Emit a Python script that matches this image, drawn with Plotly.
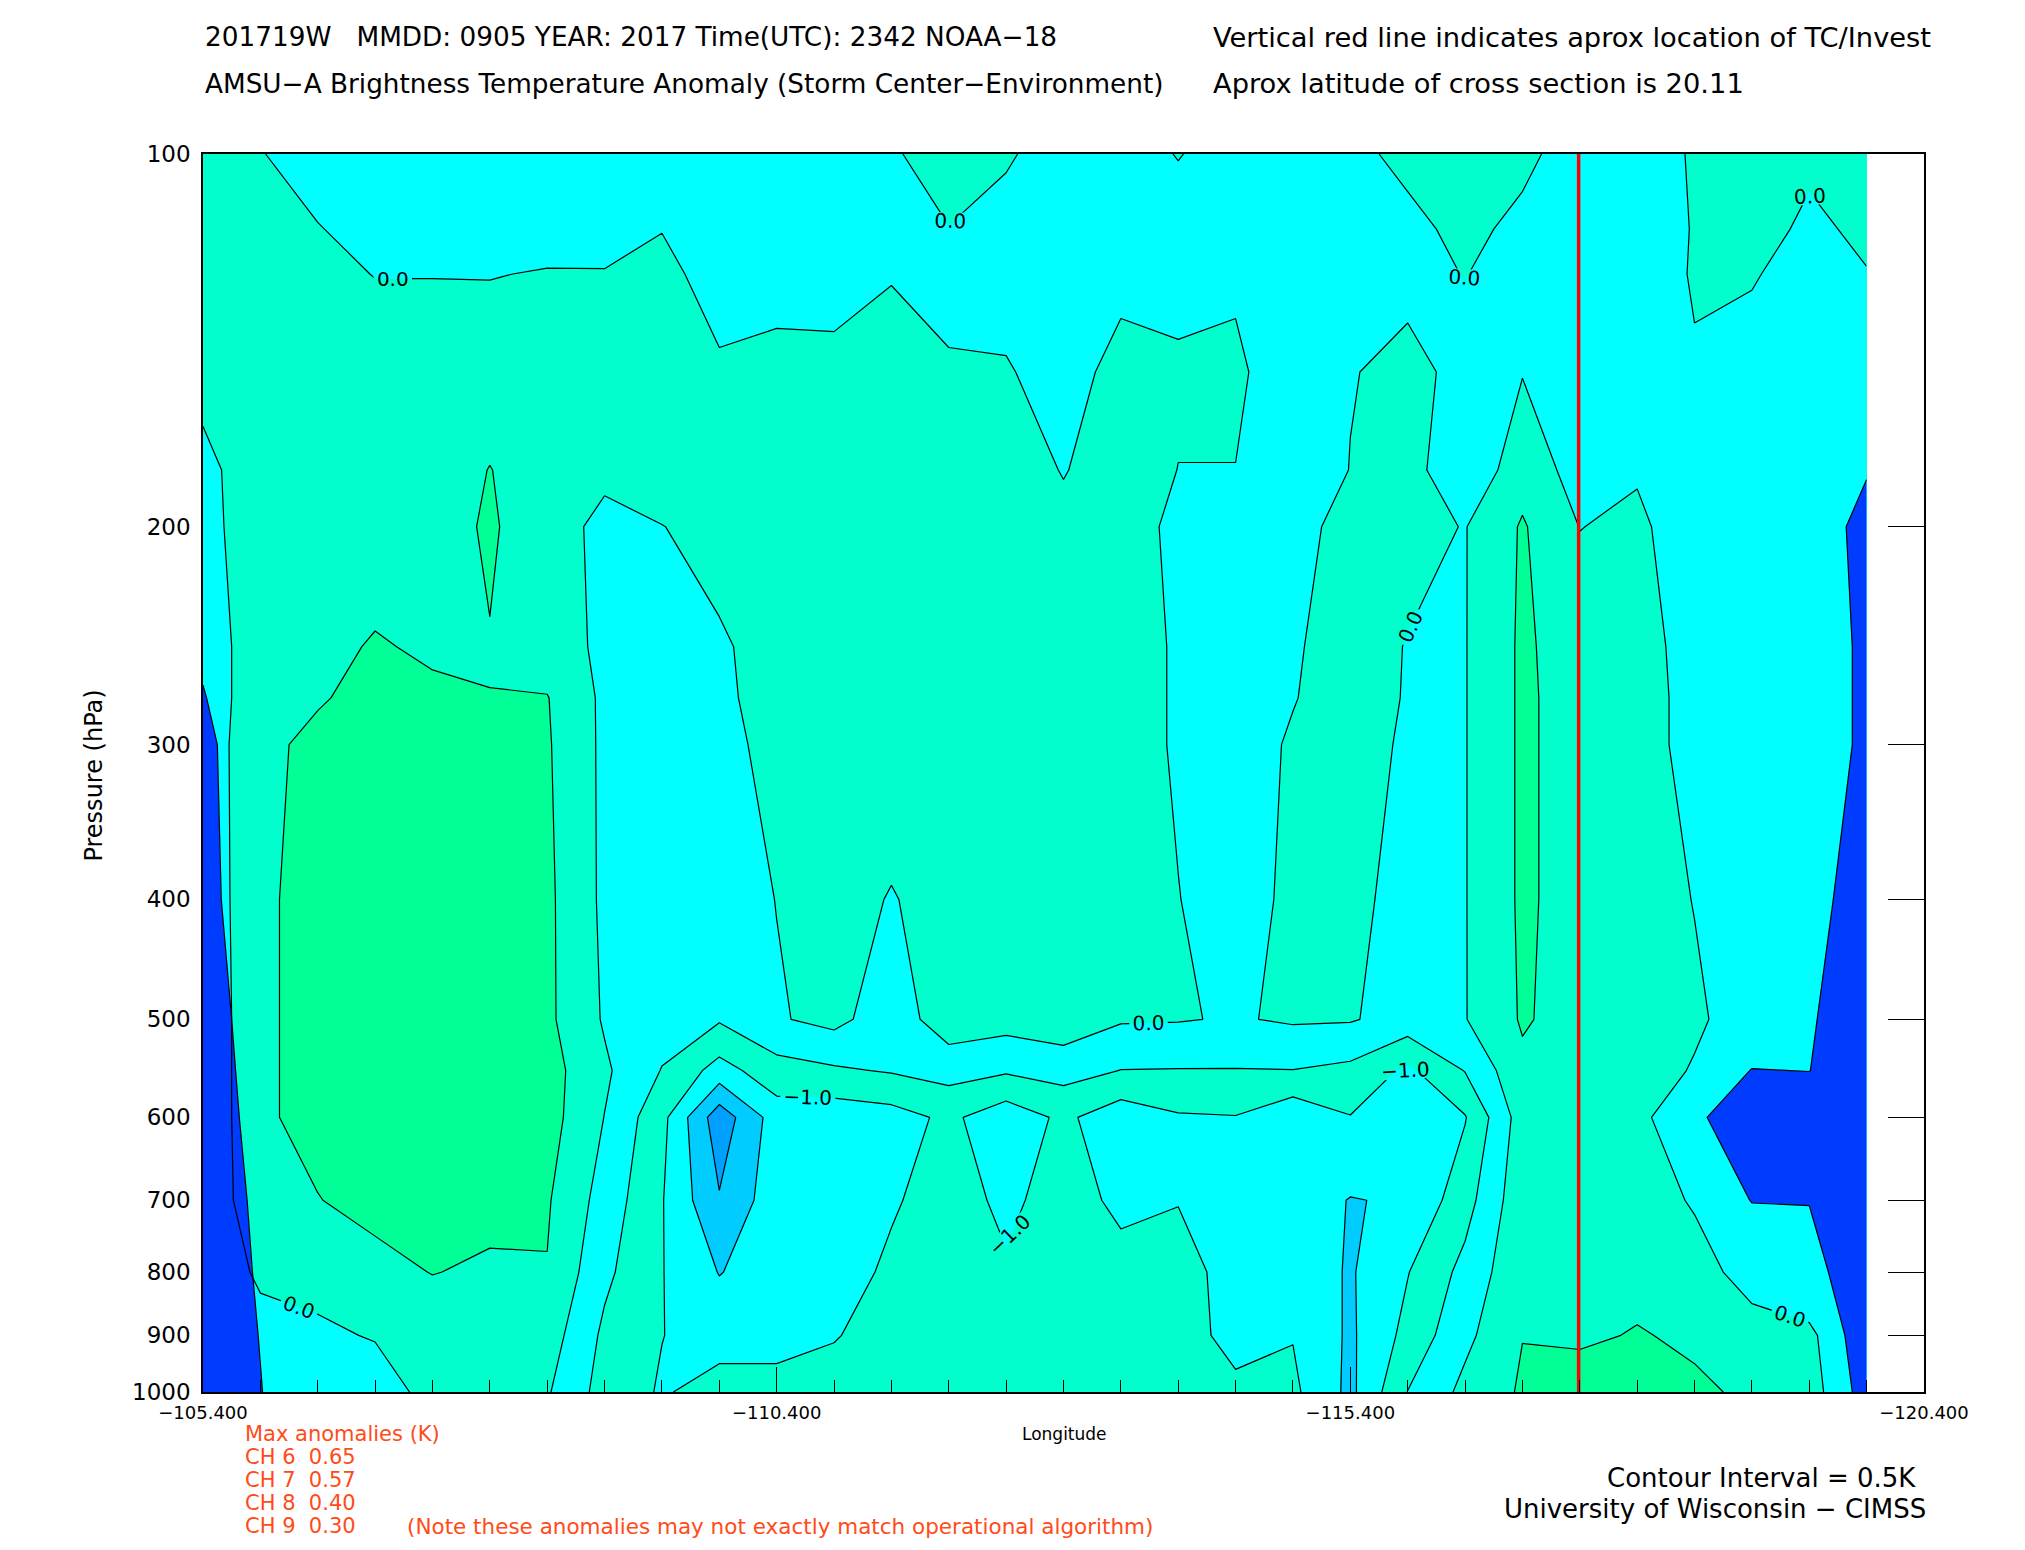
import numpy as np
import plotly.graph_objects as go

# cross-section columns (longitude) and pressure levels (hPa)
lon = [-105.4, -105.9, -106.4, -106.9, -107.4, -107.9, -108.4, -108.9, -109.4, -109.9,
       -110.4, -110.9, -111.4, -111.9, -112.4, -112.9, -113.4, -113.9, -114.4, -114.9,
       -115.4, -115.9, -116.4, -116.9, -117.4, -117.9, -118.4, -118.9, -119.4, -119.9]
pres = [100, 115, 125, 150, 180, 200, 250, 275, 300, 400, 500, 550, 600, 700, 800, 900, 1000]

# brightness temperature anomaly (K), one row per pressure level
anom = [
    [0.2, 0.02, -0.2, -0.25, -0.25, -0.25, -0.25, -0.25, -0.2, -0.25, -0.25, -0.2, -0.05, 0.2, 0.05,
     -0.2, -0.2, 0.02, -0.2, -0.2, -0.1, 0.1, 0.2, 0.1, -0.2, -0.25, 0.05, 0.15, 0.05, 0.15],
    [0.2, 0.15, 0.02, -0.15, -0.2, -0.2, -0.2, -0.15, -0.01, -0.2, -0.2, -0.2, -0.15, -0.01, -0.15,
     -0.25, -0.2, -0.2, -0.2, -0.2, -0.2, -0.1, 0.1, -0.1, -0.2, -0.2, 0.02, 0.1, -0.05, 0.05],
    [0.2, 0.2, 0.1, -0.01, -0.01, -0.02, 0.03, 0.02, 0.1, -0.15, -0.1, -0.1, -0.02, -0.15, -0.15,
     -0.2, -0.1, -0.12, -0.1, -0.2, -0.2, -0.1, 0.01, -0.15, -0.2, -0.2, 0.03, 0.02, -0.1, -0.01],
    [0.15, 0.25, 0.25, 0.2, 0.2, 0.3, 0.25, 0.2, 0.25, 0.05, 0.08, 0.07, 0.15, 0.05, 0.03,
     -0.15, 0.12, 0.06, 0.12, -0.4, -0.02, 0.1, -0.1, -0.02, -0.2, -0.2, -0.03, -0.1, -0.2, -0.2],
    [-0.12, 0.25, 0.3, 0.3, 0.3, 0.51, 0.3, 0.1, 0.25, 0.2, 0.2, 0.25, 0.25, 0.2, 0.2,
     -0.02, 0.2, -0.005, -0.01, -0.3, 0.01, 0.2, -0.4, 0.3, -0.2, -0.05, -0.2, -0.3, -0.3, -0.3],
    [-0.15, 0.26, 0.28, 0.3, 0.3, 0.56, 0.21, -0.12, -0.01, 0.15, 0.25, 0.3, 0.3, 0.3, 0.25,
     0.1, 0.1, -0.05, -0.2, -0.2, 0.2, 0.15, -0.02, 0.55, -0.01, 0.1, -0.3, -0.3, -0.3, -0.3],
    [-0.25, 0.25, 0.4, 0.53, 0.45, 0.48, 0.24, -0.1, -0.2, -0.05, 0.15, 0.3, 0.3, 0.3, 0.3,
     0.3, 0.2, -0.05, -0.2, -0.05, 0.2, -0.02, -0.02, 0.58, 0.25, 0.25, -0.25, -0.3, -0.3, -0.3],
    [-0.3, 0.3, 0.47, 0.6, 0.56, 0.505, 0.52, -0.1, -0.25, -0.1, 0.2, 0.3, 0.3, 0.3, 0.3,
     0.3, 0.2, -0.05, -0.2, -0.02, 0.2, -0.03, -0.02, 0.58, 0.3, 0.25, -0.2, -0.3, -0.3, -0.3],
    [-0.35, 0.42, 0.58, 0.62, 0.62, 0.6, 0.55, -0.1, -0.3, -0.15, 0.15, 0.3, 0.3, 0.3, 0.3,
     0.3, 0.2, -0.05, -0.2, 0.05, 0.2, -0.07, -0.02, 0.58, 0.3, 0.25, -0.2, -0.3, -0.3, -0.3],
    [-0.4, 0.45, 0.6, 0.63, 0.63, 0.62, 0.6, -0.1, -0.3, -0.25, 0.01, 0.2, -0.03, 0.2, 0.3,
     0.3, 0.2, 0.01, -0.2, 0.1, 0.15, -0.2, -0.02, 0.58, 0.3, 0.3, -0.02, -0.3, -0.3, -0.3],
    [-0.45, 0.45, 0.6, 0.63, 0.63, 0.62, 0.6, -0.05, -0.3, -0.45, -0.05, 0.15, -0.3, 0.3, 0.2,
     0.32, 0.05, 0.03, -0.04, 0.06, 0.04, -0.2, -0.02, 0.55, 0.3, 0.3, 0.1, -0.3, -0.3, -0.3],
    [-0.45, 0.45, 0.6, 0.63, 0.62, 0.62, 0.7, 0.08, -0.52, -1.2, -0.7, -0.57, -0.46, -0.31, -0.44,
     -0.31, -0.51, -0.52, -0.52, -0.51, -0.62, -1.1, -0.48, 0.4, 0.3, 0.3, -0.05, -0.3, -0.3, -0.3],
    [-0.45, 0.45, 0.6, 0.62, 0.62, 0.6, 0.7, -0.01, -0.85, -2.3, -1.25, -1.3, -1.2, -0.9, -1.3,
     -0.9, -1.3, -1.05, -1.02, -1.38, -1.02, -1.45, -1.03, 0.25, 0.3, 0.1, -0.3, -0.3, -0.3, -0.3],
    [-0.45, 0.4, 0.49, 0.6, 0.6, 0.6, 0.55, -0.2, -0.97, -1.96, -1.2, -1.2, -1.05, -0.8, -1.1,
     -0.8, -1.1, -1.02, -1.25, -1.25, -1.52, -1.45, -0.7, 0.35, 0.3, 0.25, -0.05, -0.3, -0.3, -0.3],
    [-0.45, 0.1, 0.1, 0.4, 0.51, 0.45, 0.48, -0.39, -0.98, -1.52, -1.25, -1.2, -0.92, -0.8, -0.95,
     -0.75, -0.85, -0.8, -1.2, -1.2, -1.55, -1.02, -0.35, 0.4, 0.35, 0.4, 0.2, -0.2, -0.2, -0.3],
    [-0.4, -0.2, -0.05, 0.02, 0.3, 0.3, 0.25, -0.6, -0.99, -1.2, -1.15, -1.03, -0.8, -0.75, -0.75,
     -0.75, -0.75, -0.8, -1.15, -1.02, -1.58, -0.85, -0.12, 0.49, 0.45, 0.52, 0.45, 0.2, 0.05, -0.3],
    [-0.3, -0.3, -0.3, -0.15, 0.1, 0.25, 0.05, -0.7, -1.05, -0.8, -0.85, -0.8, -0.75, -0.75, -0.75,
     -0.75, -0.75, -0.75, -0.9, -0.9, -1.62, -0.49, 0.13, 0.56, 0.65, 0.6, 0.55, 0.45, 0.1, -0.3],
]

# swath-edge flag (>0.5 = edge of scan), first two and last four columns
edge_left = [
    [0, 0], [0, 0], [0, 0], [0, 0], [0, 0], [0, 0], [0.2, -1], [0.6, -1], [1, -1],
    [1, -0.57], [1, 0.0], [1, 0.12], [1, 0.21], [1, 0.35], [1, 0.42], [1, 0.48], [1, 0.52],
]
edge_right = [
    [0, 0, 0, 0], [0, 0, 0, 0], [0, 0, 0, 0], [0, 0, 0, 0], [0, 0, -1, 0.4], [0, 0, -0.4, 1],
    [0, 0, -1, 1], [0, 0, -1, 1], [0, 0, -1, 1], [0, 0, 0.14, 1], [0, 0, 0.42, 1],
    [0, 0.52, 0.49, 1], [0.36, 1, 1, 1], [0, 0.52, 0.52, 1], [0, 0, 0.25, 1],
    [0, 0, -0.32, 1], [0, 0, -1, 1],
]

tc_lon = -117.39
cs_lat = 20.11
channels = [6, 7, 8, 9]
ch_max = [0.65, 0.57, 0.40, 0.30]
p_ticks = [100, 200, 300, 400, 500, 600, 700, 800, 900, 1000]
lon_ticks = [-105.4, -110.4, -115.4, -120.4]

edge = np.zeros((len(pres), len(lon)))
edge[:, :2] = np.array(edge_left)
edge[:, -4:] = np.array(edge_right)

FONT = "DejaVu Sans"
c_dodger = "rgb(0,160,255)"
c_sky = "rgb(0,204,255)"
c_cyan = "rgb(0,255,255)"
c_aqua = "rgb(0,255,204)"
c_green = "rgb(0,255,150)"
c_blue = "rgb(0,60,255)"
LINE = dict(color="black", width=1.2, smoothing=0)

fig = go.Figure()

# filled bands, 0.5 K interval
fig.add_trace(go.Contour(
    x=lon, y=pres, z=anom,
    contours=dict(start=-2.0, end=0.5, size=0.5, coloring="fill", showlines=False),
    colorscale=[[0, c_dodger], [1/6, c_sky], [2/6, c_cyan], [3/6, c_aqua],
                [4/6, c_cyan], [5/6, c_aqua], [1, c_green]],
    line=dict(width=0, smoothing=0), showscale=False, hoverinfo="skip"))

# scan edge (plotly shades the side that breaks the constraint)
fig.add_trace(go.Contour(
    x=lon, y=pres, z=edge,
    contours=dict(type="constraint", operation="<", value=0.5),
    fillcolor=c_blue, line=LINE, showscale=False, hoverinfo="skip"))

# unlabelled contour lines
for s, e, d in [(-2.0, -1.5, 0.5), (-0.5, 0.5, 1.0)]:
    fig.add_trace(go.Contour(
        x=lon, y=pres, z=anom,
        contours=dict(start=s, end=e, size=d, coloring="none"),
        line=LINE, showscale=False, hoverinfo="skip"))

# labelled contour lines
fig.add_trace(go.Contour(
    x=lon, y=pres, z=anom,
    contours=dict(start=-1.0, end=0.0, size=1.0, coloring="none", showlabels=True,
                  labelformat=".1f", labelfont=dict(size=20, color="black", family=FONT)),
    line=LINE, showscale=False, hoverinfo="skip"))

# storm location
fig.add_trace(go.Scatter(
    x=[tc_lon, tc_lon], y=[pres[0], pres[-1]], mode="lines", yaxis="y2",
    line=dict(color="red", width=3.5), hoverinfo="skip", showlegend=False))


def note(x, y, text, size=26.3, color="black", xanchor="left", angle=0):
    return dict(x=x, y=y, xref="paper", yref="paper", text=text, showarrow=False,
                xanchor=xanchor, yanchor="middle", textangle=angle,
                font=dict(size=size, color=color, family=FONT))


red = "rgb(255,75,25)"
ann = [
    note(0.0, 1.0945, "201719W\u00a0\u00a0 MMDD: 0905 YEAR: 2017 Time(UTC): 2342 NOAA\u221218"),
    note(0.0, 1.0566, "AMSU\u2212A Brightness Temperature Anomaly (Storm Center\u2212Environment)"),
    note(0.5855, 1.0945, "Vertical red line indicates aprox location of TC/Invest", size=27.3),
    note(0.5855, 1.0566, "Aprox latitude of cross section is %.2f" % cs_lat, size=27.3),
    note(-0.0633, 0.498, "Pressure (hPa)", size=24, xanchor="center", angle=-90),
    note(0.5003, -0.0343, "Longitude", size=17, xanchor="center"),
    note(0.0232, -0.0337, "Max anomalies (K)", size=21, color=red),
    note(0.1174, -0.1087, "(Note these anomalies may not exactly match operational algorithm)",
         size=21.5, color=red),
    note(0.9965, -0.0697, "Contour Interval = 0.5K", size=26, xanchor="right"),
    note(1.0023, -0.0942, "University of Wisconsin \u2212 CIMSS", size=26, xanchor="right"),
]
for k, (ch, v) in enumerate(zip(channels, ch_max)):
    ann.append(note(0.0232, -0.0522 - 0.0188 * k, "CH %d\u00a0\u00a0%.2f" % (ch, v),
                    size=21, color=red))

fig.update_layout(
    width=2025, height=1550,
    margin=dict(l=203, r=101, t=154, b=158),
    paper_bgcolor="white", plot_bgcolor="white",
    showlegend=False,
    annotations=ann,
    xaxis=dict(range=[-105.4, -120.4], tickmode="array", tickvals=lon_ticks, tickformat=".3f",
               ticks="inside", ticklen=25, tickwidth=1.2, tickcolor="black",
               minor=dict(tickmode="array", tickvals=lon, ticks="inside", ticklen=12,
                          tickwidth=1.2, tickcolor="black", showgrid=False),
               showline=True, mirror=True, linecolor="black", linewidth=1.5,
               showgrid=False, zeroline=False, ticklabelstandoff=4,
               tickfont=dict(size=18, color="black", family=FONT)),
    yaxis=dict(type="log", range=[3, 2], tickmode="array", tickvals=p_ticks,
               ticktext=[str(p) for p in p_ticks], ticks="",
               showline=True, mirror=True, linecolor="black", linewidth=1.5,
               showgrid=False, zeroline=False, ticklabelstandoff=6,
               tickfont=dict(size=23, color="black", family=FONT)),
    yaxis2=dict(type="log", range=[3, 2], overlaying="y", side="right", anchor="x",
                tickmode="array", tickvals=p_ticks, ticks="inside", ticklen=36,
                tickwidth=1.2, tickcolor="black", showticklabels=False,
                showgrid=False, zeroline=False, showline=False),
)

fig.write_html("out.html", config={"displayModeBar": False},
               post_script="document.body.style.margin='0px';")
